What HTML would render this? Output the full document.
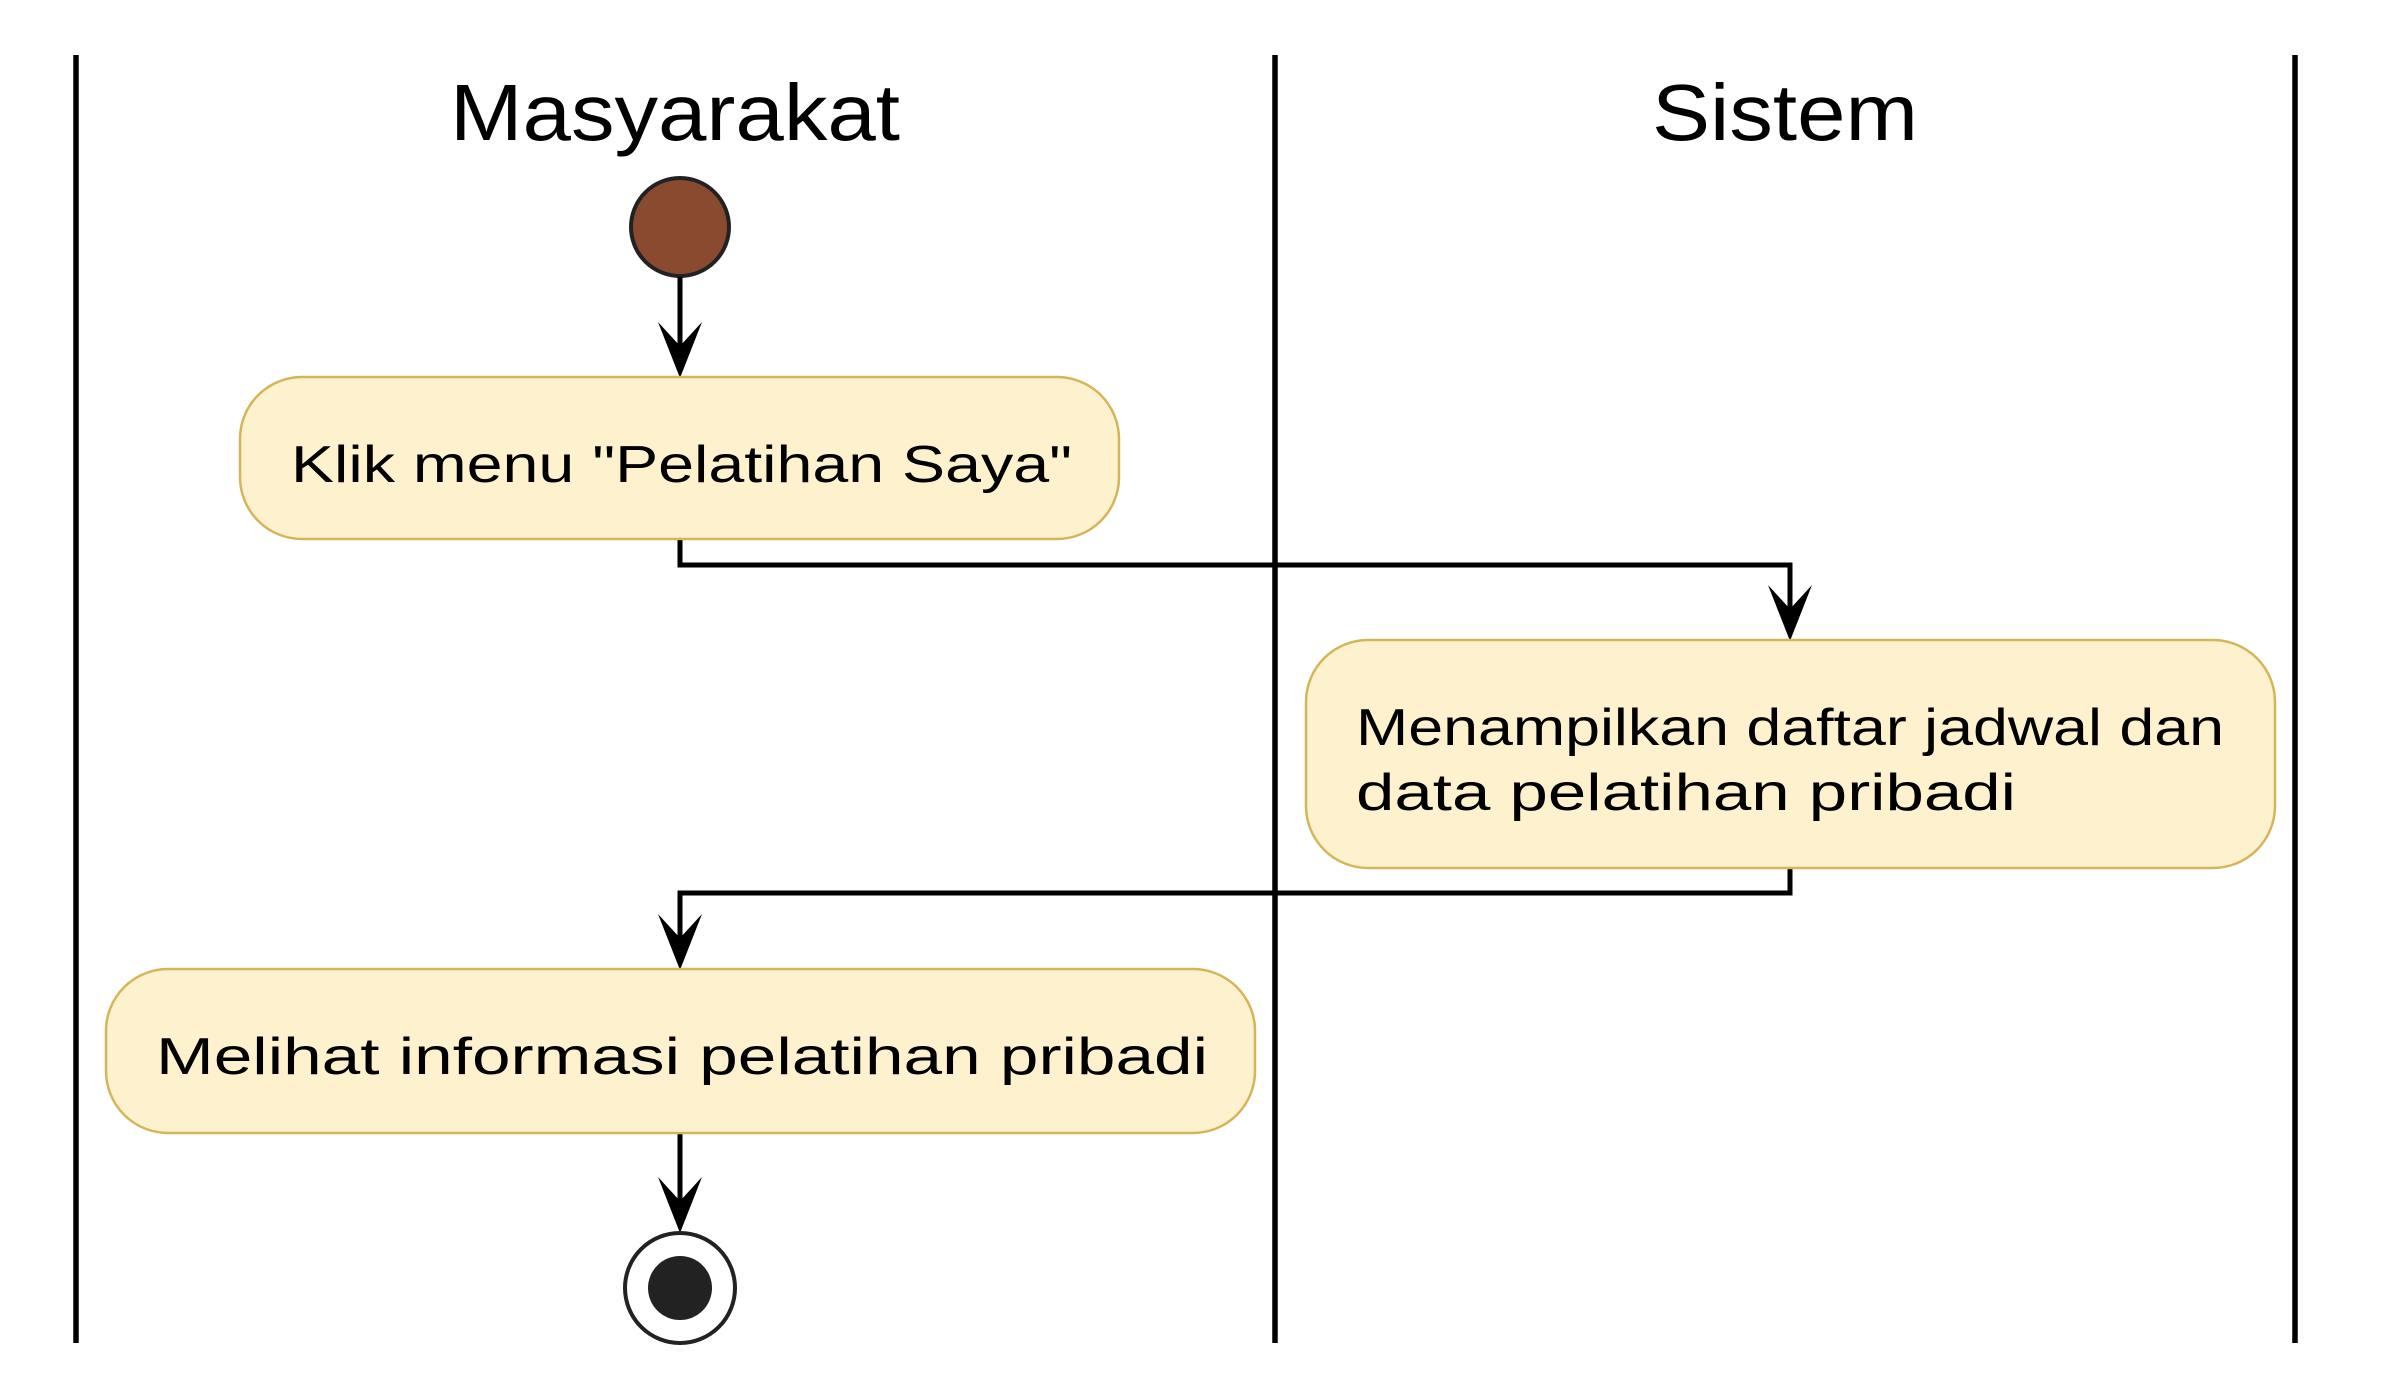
<!DOCTYPE html>
<html><head><meta charset="utf-8"><style>html,body{margin:0;padding:0;background:#fff}svg{display:block}</style></head>
<body>
<svg width="2400" height="1400" viewBox="0 0 2400 1400" xmlns="http://www.w3.org/2000/svg" font-family="Liberation Sans, sans-serif">
<rect width="2400" height="1400" fill="#fff"/>
<g stroke="#000" stroke-width="5.5">
<line x1="76" y1="55" x2="76" y2="1343"/>
<line x1="1275" y1="55" x2="1275" y2="1343"/>
<line x1="2295" y1="55" x2="2295" y2="1343"/>
</g>
<text x="675" y="140" font-size="80" text-anchor="middle" textLength="450" lengthAdjust="spacingAndGlyphs">Masyarakat</text>
<text x="1785" y="140" font-size="80" text-anchor="middle" textLength="266" lengthAdjust="spacingAndGlyphs">Sistem</text>
<circle cx="680" cy="227" r="49" fill="#8a4a2f" stroke="#222" stroke-width="4"/>
<g stroke="#000" stroke-width="5" fill="none">
<line x1="680" y1="277" x2="680" y2="370"/>
<polyline points="680,539 680,565 1790,565 1790,630"/>
<polyline points="1790,868 1790,893 680,893 680,960"/>
<line x1="680" y1="1133" x2="680" y2="1225"/>
</g>
<g fill="#000">
<path d="M658,322 L680,378 L702,322 L680,346 Z"/>
<path d="M1768,585 L1790,641 L1812,585 L1790,609 Z"/>
<path d="M658,914 L680,970 L702,914 L680,938 Z"/>
<path d="M658,1177 L680,1233 L702,1177 L680,1201 Z"/>
</g>
<g fill="#fef2ce" stroke="#d4b55a" stroke-width="2.5">
<rect x="240" y="377" width="879" height="162" rx="62"/>
<rect x="1306" y="640" width="969" height="228" rx="62"/>
<rect x="106" y="969" width="1149" height="164" rx="62"/>
</g>
<g font-size="52" fill="#000">
<text x="291" y="482" textLength="781" lengthAdjust="spacingAndGlyphs">Klik menu "Pelatihan Saya"</text>
<text x="1356" y="745" textLength="868" lengthAdjust="spacingAndGlyphs">Menampilkan daftar jadwal dan</text>
<text x="1356" y="810" textLength="660" lengthAdjust="spacingAndGlyphs">data pelatihan pribadi</text>
<text x="156" y="1074" textLength="1052" lengthAdjust="spacingAndGlyphs">Melihat informasi pelatihan pribadi</text>
</g>
<circle cx="680" cy="1288" r="55" fill="#fff" stroke="#222" stroke-width="4"/>
<circle cx="680" cy="1288" r="32" fill="#222"/>
</svg>
</body></html>
